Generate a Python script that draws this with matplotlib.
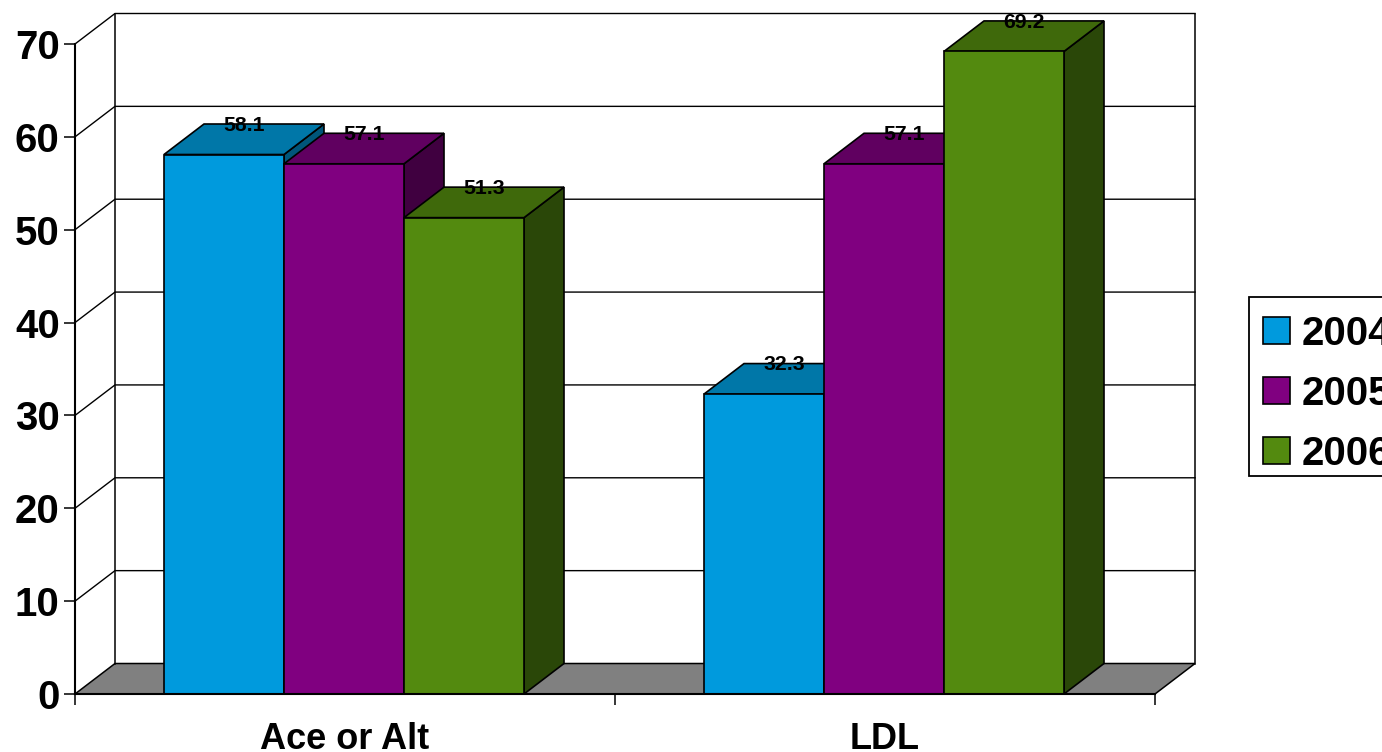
import matplotlib
matplotlib.use('Agg')
import matplotlib.pyplot as plt
from matplotlib.patches import Rectangle

plt.rcParams['font.family'] = ['Liberation Sans', 'DejaVu Sans']
plt.rcParams['font.weight'] = 'bold'

categories = ['Ace or Alt', 'LDL']
years = ['2004', '2005', '2006']
v2004 = [58.1, 32.3]
v2005 = [57.1, 57.1]
v2006 = [51.3, 69.2]
series = [v2004, v2005, v2006]
yticks = [0, 10, 20, 30, 40, 50, 60, 70]

front = ['#009ADD', '#800080', '#538A0F']
top = ['#0077A8', '#600060', '#3F690B']
side = ['#00567A', '#400040', '#2A4708']

# pseudo 3d depth, in data units of the front plane
dx = 40 / 540
dy = 30.5 / 9.286
bar_w = 120 / 540
gap = 89 / 540

fig = plt.figure(figsize=(13.82, 7.52), dpi=100)
ax = fig.add_axes([75 / 1382, 58 / 752, 1080 / 1382, 650 / 752])
ax.set_xlim(0, 2)
ax.set_ylim(0, 70)
ax.patch.set_visible(False)

# back wall and floor
ax.fill([0, dx, 2 + dx, 2], [0, dy, dy, 0], facecolor='#808080', edgecolor='black', lw=1.1, zorder=1, clip_on=False)
for t in yticks[1:]:
    ax.plot([0, dx, 2 + dx], [t, t + dy, t + dy], color='black', lw=1.0, zorder=1, clip_on=False)
ax.plot([dx, dx], [dy, 70 + dy], color='black', lw=1.1, zorder=1, clip_on=False)
ax.plot([2 + dx, 2 + dx], [dy, 70 + dy], color='black', lw=1.1, zorder=1, clip_on=False)

# bars, left to right so the next one covers the side of the last
for c in range(len(categories)):
    for s in range(len(series)):
        v = series[s][c]
        x0 = c + gap + s * bar_w
        x1 = x0 + bar_w
        ax.fill([x1, x1 + dx, x1 + dx, x1], [0, dy, v + dy, v], facecolor=side[s], edgecolor='black', lw=1.2, zorder=3, clip_on=False)
        ax.fill([x0, x0 + dx, x1 + dx, x1], [v, v + dy, v + dy, v], facecolor=top[s], edgecolor='black', lw=1.2, zorder=3, clip_on=False)
        ax.bar(x0, v, bar_w, align='edge', color=front[s], edgecolor='black', lw=1.2, zorder=3, clip_on=False, label=years[s] if c == 0 else None)

for c in range(len(categories)):
    for s in range(len(series)):
        v = series[s][c]
        x0 = c + gap + s * bar_w
        ax.text(x0 + bar_w / 2 + dx / 2, v + dy - 0.15, '%.1f' % v, ha='center', va='center', fontsize=15.3, fontweight='bold', color='black', zorder=5, clip_on=False)

for name in ['top', 'right']:
    ax.spines[name].set_visible(False)
for name in ['left', 'bottom']:
    ax.spines[name].set_linewidth(1.5)
    ax.spines[name].set_zorder(4)

ax.set_yticks(yticks)
ax.tick_params(axis='y', which='major', length=8, width=1.1, labelsize=29, pad=3)
ax.set_xticks([0, 1, 2])
ax.set_xticklabels([])
ax.tick_params(axis='x', which='major', length=8, width=1.1)
ax.set_xticks([0.5, 1.5], minor=True)
ax.set_xticklabels(categories, minor=True, fontsize=26, fontweight='bold')
ax.tick_params(axis='x', which='minor', length=0, pad=20)

# legend box runs off the right edge of the picture, as in the source
fig.add_artist(Rectangle((1249 / 1382, 1 - 476 / 752), 160 / 1382, 179 / 752, transform=fig.transFigure,
                         facecolor='white', edgecolor='black', lw=1.3))
handles, labels = ax.get_legend_handles_labels()
leg = fig.legend(handles, labels, loc='upper left', bbox_to_anchor=(1246 / 1382, 1 - 298 / 752),
                 bbox_transform=fig.transFigure, borderaxespad=0, fontsize=29, frameon=False,
                 handlelength=0.66, handleheight=0.66, handletextpad=0.3, labelspacing=0.545, borderpad=0.42)

fig.savefig('out.png', dpi=100)
